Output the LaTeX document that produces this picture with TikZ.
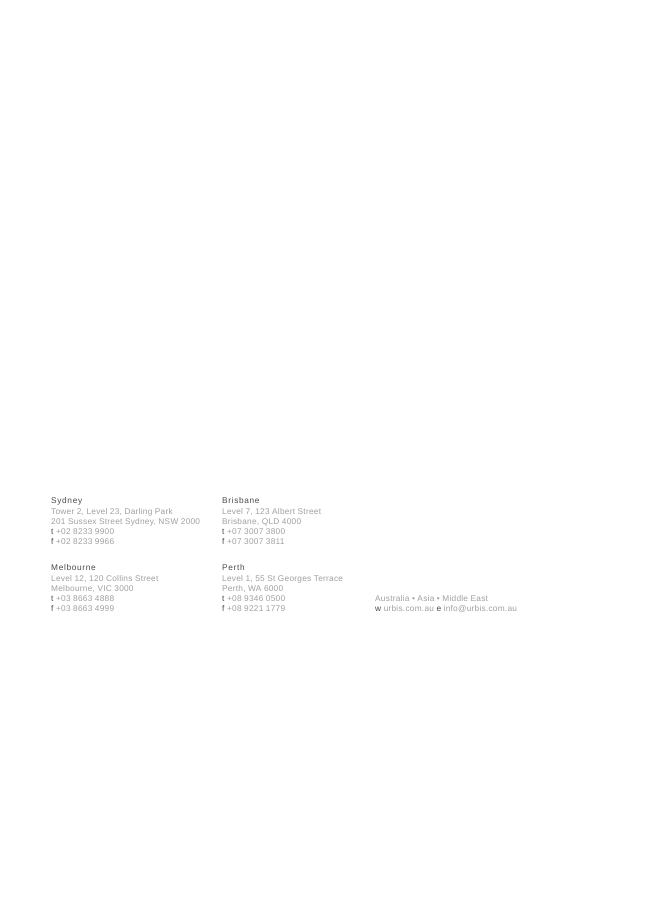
\documentclass[tikz,border=0pt]{standalone}
\usepackage{fontspec}
\setmainfont{Liberation Sans}[LetterSpace=3]
\definecolor{headc}{HTML}{4A4A4A}
\definecolor{bodyc}{HTML}{A0A0A0}
\begin{document}
\begin{tikzpicture}[x=1pt,y=-1pt,
  txt/.style={anchor=base west,inner sep=0pt,font=\fontsize{8.3}{10.3}\selectfont,text=bodyc},
  head/.style={txt,text=headc,font=\fontsize{8.3}{10.3}\selectfont\addfontfeatures{LetterSpace=8}}]
\useasboundingbox[fill=white] (0,0) rectangle (653,923);
\newcommand{\tf}[1]{\textcolor{headc}{#1}}
% Sydney
\node[head] (syh) at (51,503.7) {Sydney};
\node[txt] (sy1) at (51,514) {Tower 2, Level 23, Darling Park};
\node[txt] (sy2) at (51,524.3) {201 Sussex Street Sydney, NSW 2000};
\node[txt] (sy3) at (51,534.6) {\tf{t} +02 8233 9900};
\node[txt] (sy4) at (51,544.9) {\tf{f} +02 8233 9966};
% Brisbane
\node[head] (brh) at (222,503.7) {Brisbane};
\node[txt] (br1) at (222,514) {Level 7, 123 Albert Street};
\node[txt] (br2) at (222,524.3) {Brisbane, QLD 4000};
\node[txt] (br3) at (222,534.6) {\tf{t} +07 3007 3800};
\node[txt] (br4) at (222,544.9) {\tf{f} +07 3007 3811};
% Melbourne
\node[head] (meh) at (51,570.7) {Melbourne};
\node[txt] (me1) at (51,581) {Level 12, 120 Collins Street};
\node[txt] (me2) at (51,591.3) {Melbourne, VIC 3000};
\node[txt] (me3) at (51,601.6) {\tf{t} +03 8663 4888};
\node[txt] (me4) at (51,611.9) {\tf{f} +03 8663 4999};
% Perth
\node[head] (peh) at (222,570.7) {Perth};
\node[txt] (pe1) at (222,581) {Level 1, 55 St Georges Terrace};
\node[txt] (pe2) at (222,591.3) {Perth, WA 6000};
\node[txt] (pe3) at (222,601.6) {\tf{t} +08 9346 0500};
\node[txt] (pe4) at (222,611.9) {\tf{f} +08 9221 1779};
% Footer
\node[txt] (ft1) at (375,601.6) {Australia \textbullet{} Asia \textbullet{} Middle East};
\node[txt] (ft2) at (375,611.9) {\tf{w} urbis.com.au \tf{e} info@urbis.com.au};
\end{tikzpicture}
\end{document}
